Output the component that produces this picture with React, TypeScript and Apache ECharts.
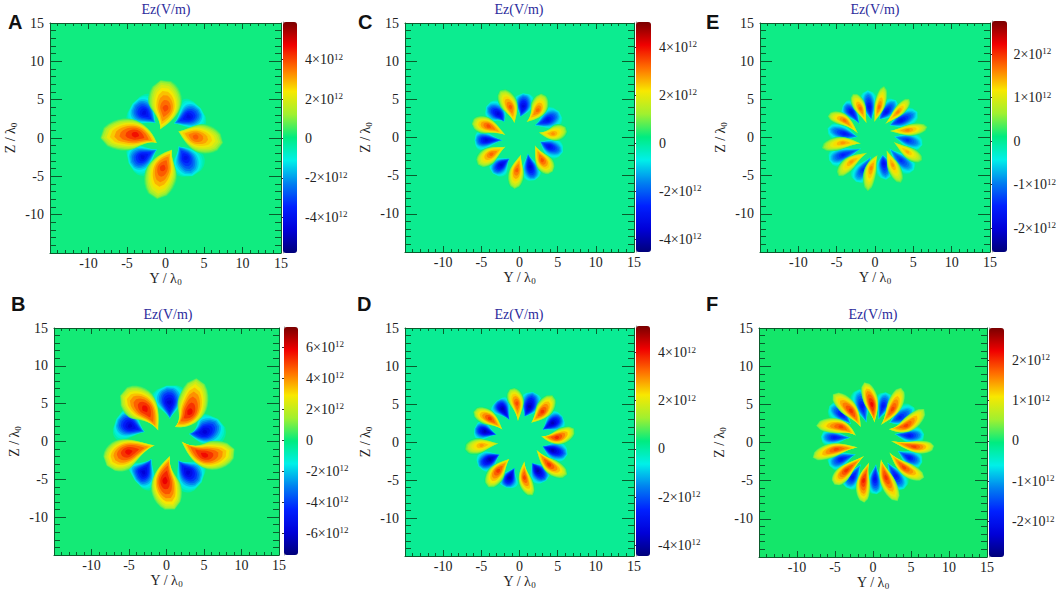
import React, { useEffect, useRef } from "react";
import * as echarts from "echarts";

// Each lobe, in axis units (x 1e12 for the value):
// [peak value, tipY, tipZ, peakY, peakZ, outerY, outerZ, half width]
const lobesA = [
  [4.2, -0.7, 1.1, 0, 3.9, -0.65, 7.6, 2.3],
  [4.0, 1.65, 0.87, 3.9, 0.13, 7.5, -0.65, 2.0],
  [4.4, 0.87, -1.5, -0.35, -3.9, -1.1, -8, 2.2],
  [4.8, -1.1, -0.65, -3.9, 0.43, -8.5, 0, 2.2],
  [-4.4, -1.3, 1.95, -2.8, 3.3, -4.3, 4.5, 1.5],
  [-4.4, 1.1, 1.9, 3, 2.8, 4.6, 3.9, 1.4],
  [-4.2, 1.7, -1.1, 2.6, -2.6, 3.5, -5, 1.4],
  [-4.4, -1.1, -1.5, -3, -2.5, -4.8, -3.3, 1.4],
];
const lobesB = [
  [6.0, 1.1, 1.9, 3.1, 3.9, 4, 8.4, 2.1],
  [6.0, 2, 0, 5.1, -1.8, 9.1, -1, 2.0],
  [6.2, 0.45, -1.9, -0.2, -5.2, 1.1, -9, 2.1],
  [6.0, -1.55, -0.5, -5.1, -1.4, -8, -3.2, 2.2],
  [6.0, -1.1, 1.45, -2.9, 4.35, -6.2, 6.1, 2.3],
  [-6.2, 0.45, 3.0, 0.35, 5.2, 0, 7.4, 1.5],
  [-6.2, 3.0, 1.0, 5.1, 1.3, 6.9, 3, 1.5],
  [-6.2, 1.55, -2.5, 2.9, -4.1, 4.7, -5.4, 1.5],
  [-6.2, -2, -2.3, -3.1, -4.1, -4.2, -5.2, 1.5],
  [-6.2, -2.9, 1.25, -4.9, 2.1, -6.7, 3, 1.5],
];
const lobesC = [
  [3.5, -0.65, 1.85, -1.2, 4, -2.6, 6.2, 1.2],
  [3.4, 0.9, 2, 2.4, 3.6, 2.85, 5.8, 1.2],
  [3.0, 2.5, 0.65, 4.4, 0.5, 6.1, 1.4, 1.1],
  [3.6, 2, -1, 3, -3, 4.4, -4.5, 1.2],
  [3.5, 0.2, -2.2, -0.35, -4.3, -0.65, -6.8, 1.1],
  [3.4, -1.8, -1.2, -3.7, -2.2, -5.5, -3.6, 1.2],
  [3.6, -1.8, 0.3, -4.1, 1.5, -6.3, 1.8, 1.2],
  [-3.6, -2, 2.05, -2.8, 3.1, -4.4, 4, 0.9],
  [-3.5, 0.1, 2.7, 0.5, 4.1, 0.45, 5.8, 0.9],
  [-3.2, 2, 1.6, 3.7, 2.3, 5.2, 3.4, 0.9],
  [-3.3, 2.7, -0.55, 3.9, -1.2, 5.7, -1.9, 0.8],
  [-3.6, 1.1, -2.1, 1.4, -3.85, 2, -5.6, 0.8],
  [-3.6, -1.3, -2.75, -2.4, -3.6, -3.5, -4.7, 0.8],
  [-3.5, -2.2, -0.35, -4.4, -0.35, -5.9, -0.35, 0.8],
];
const lobesD = [
  [3.7, -0.2, 2.7, -0.35, 5.1, -1.3, 7, 1.1],
  [3.9, 1.5, 2.5, 3, 4, 4.35, 6.2, 1.2],
  [4.0, 2.8, 0.75, 4.9, 0.6, 7.2, 1.8, 1.1],
  [3.9, 2.2, -1, 3.9, -3, 6.3, -4.3, 1.1],
  [3.8, 0.65, -2.5, 0.65, -4.7, 1.75, -7.1, 0.95],
  [3.9, -1.3, -2.2, -2.8, -3.8, -4.1, -6, 1.2],
  [3.0, -2.7, -0.2, -5, -0.45, -7.2, -1, 1.1],
  [3.9, -2.2, 1.6, -3.9, 3.1, -6.1, 4, 1.1],
  [-4.0, -1.3, 2.9, -2.25, 4.4, -3, 5.4, 0.85],
  [-4.0, 0.65, 3.35, 1.3, 4.65, 1.75, 6.6, 0.9],
  [-4.0, 3, 1.6, 4.35, 2.5, 5.65, 3.35, 0.85],
  [-4.0, 3, -0.55, 4.35, -1.1, 6.3, -1.65, 0.8],
  [-4.1, 1.65, -2.75, 2.4, -3.8, 3.5, -5.1, 0.85],
  [-4.0, -0.65, -3.4, -1.3, -4.7, -1.75, -6, 0.8],
  [-4.0, -2.6, -1.65, -3.9, -2.3, -5.4, -3.2, 0.85],
  [-4.0, -3, 0.95, -4.55, 1.4, -5.9, 1.8, 0.8],
];
const lobesE = [
  [1.8, -1.1, 1.85, -1.9, 3.8, -2.9, 5.75, 0.85],
  [1.8, -0.1, 2, 0.55, 4, 1.2, 6.8, 0.75],
  [1.7, 1.3, 1.75, 3, 3.35, 4.5, 5.1, 0.7],
  [1.7, 1.9, 0.85, 4.25, 0.95, 6.9, 1.4, 0.8],
  [1.5, 2.4, -0.55, 4.25, -1.9, 6.2, -3, 0.85],
  [1.6, 1.5, -1.65, 2.3, -3.6, 3.4, -6, 0.85],
  [1.7, 0.35, -2.3, -0.5, -4, -0.95, -7.1, 0.85],
  [1.6, -1, -2, -3.1, -3.2, -4.8, -5.1, 0.9],
  [1.6, -1.8, -0.8, -4.2, -0.7, -7, -1.4, 0.9],
  [1.8, -2.2, 0.5, -4, 2.25, -6.2, 2.8, 0.85],
  [-1.8, -2, 1.75, -3.1, 3.35, -4.2, 4.2, 0.75],
  [-1.8, -0.45, 2.25, -0.75, 4, -0.95, 6.2, 0.7],
  [-1.8, 0.55, 2.35, 1.45, 3.35, 2.75, 4.9, 0.7],
  [-1.8, 1.9, 1.6, 3.4, 2.25, 5.55, 3.35, 0.75],
  [-1.5, 2.5, 0.1, 4.25, -0.35, 6.2, -1, 0.7],
  [-1.5, 1.9, -1.45, 3.4, -3, 5.1, -4.25, 0.75],
  [-1.8, 1, -2.3, 1.15, -3.4, 1.45, -5.55, 0.7],
  [-1.5, -0.5, -2.5, -1.6, -4.25, -2.5, -5.8, 0.75],
  [-1.6, -1.8, -1.45, -4.2, -2.3, -6, -3, 0.75],
  [-1.7, -2.25, 0.1, -4, 0.5, -6.2, 1.2, 0.7],
];
const lobesF = [
  [2.3, 0.2, 2.6, -0.15, 5, -1.15, 7.9, 1],
  [2.0, 1.05, 2.3, 2.6, 4.4, 3.7, 7.2, 1],
  [2.0, 2.05, 1.75, 4.35, 2.2, 6.75, 4.4, 1],
  [2.0, 2.35, 0.2, 5.45, -0.55, 8.05, -0.45, 0.85],
  [2.0, 2.15, -1.3, 4.1, -3.3, 6.75, -4.6, 0.95],
  [2.1, 1.05, -2.2, 1.7, -4.6, 3.25, -7.7, 1],
  [2.2, -0.5, -2.6, -1.25, -5, -1.15, -7.9, 0.95],
  [2.1, -1.15, -1.75, -3.55, -3.7, -5.1, -5.5, 1],
  [2.0, -2, -0.65, -4.85, -0.9, -7.95, -2, 0.95],
  [2.0, -2.25, 0.9, -4.2, 2.05, -7.5, 2.2, 1],
  [2.1, -1.6, 2, -2.9, 4.15, -5.3, 6.35, 1.1],
  [-2.0, -0.85, 2.6, -1.45, 4.8, -1.8, 7, 0.85],
  [-2.0, 0.7, 3, 1.35, 4.8, 1.7, 6.6, 0.75],
  [-1.9, 2.15, 2.6, 3.55, 3.3, 5.45, 4.6, 0.85],
  [-2.0, 2.8, 1.1, 4.8, 0.9, 6.75, 1.1, 0.75],
  [-2.0, 3.25, -1.1, 4.8, -2, 6.5, -2.6, 0.8],
  [-2.0, 1.9, -2.6, 3, -4.4, 4.1, -6.1, 0.8],
  [-2.1, 0.4, -2.85, 0.25, -4.8, 0.5, -6.8, 0.7],
  [-2.0, -1.6, -2.85, -2.7, -4.6, -3.55, -5.9, 0.8],
  [-2.0, -2.25, -1.55, -4.2, -2.2, -5.75, -3.05, 0.8],
  [-2.0, -2.9, 0.65, -5.1, 0.65, -6.85, 0.75, 0.7],
  [-2.0, -2.9, 2.4, -4.2, 3.7, -5.75, 4.8, 0.8],
];

const panelLetters = ["A", "B", "C", "D", "E", "F"];
const panelLobes = [lobesA, lobesB, lobesC, lobesD, lobesE, lobesF];
const barRanges = [[-5.8, 5.9], [-7.4, 7.3], [-4.53, 5.05], [-4.44, 5.1], [-2.55, 2.76], [-2.88, 2.8]];
const barTicks = [
  [-4, -2, 0, 2, 4],
  [-6, -4, -2, 0, 2, 4, 6],
  [-4, -2, 0, 2, 4],
  [-4, -2, 0, 2, 4],
  [-2, -1, 0, 1, 2],
  [-2, -1, 0, 1, 2],
];

// Layout: plot left, top, width, height; bar left, top, width, height; title x, title y; letter x, letter y
const layouts = [
  { p: [50, 23, 231, 230], b: [283, 22, 14, 231], t: [166, 2], l: [8, 12], bg: "#10ec80" },
  { p: [54, 328, 225, 227], b: [284, 327, 14, 228], t: [168, 307], l: [11, 294], bg: "#14ea76" },
  { p: [405, 23, 229, 229], b: [636, 22, 15, 230], t: [519, 2], l: [358, 12], bg: "#0cec90" },
  { p: [405, 328, 229, 228], b: [636, 326, 14, 230], t: [519, 307], l: [357, 294], bg: "#0aec94" },
  { p: [760, 23, 230, 229], b: [992, 21, 15, 231], t: [875, 2], l: [706, 12], bg: "#0eec86" },
  { p: [759, 328, 228, 229], b: [989, 328, 15, 229], t: [873, 307], l: [706, 294], bg: "#14e66a" },
];

const jet = ["#00007a", "#0000d8", "#0020ff", "#0080f0", "#00f0e8", "#00ec80", "#a0f030", "#f8e800", "#ff7000", "#f00000", "#7a0000"];
const levels = [0.1, 0.18, 0.26, 0.36, 0.46, 0.56, 0.66, 0.76, 0.86, 0.95];
const serif = "Liberation Serif";
const tickColor = "#0a5c2c";

function lobeItems(lobes: number[][]) {
  const out: number[][] = [];
  for (const f of levels) for (const l of lobes) out.push([l[0] * f, l[1], l[2], l[3], l[4], l[5], l[6], l[7], f]);
  return out;
}

function renderLobe(_: any, api: any) {
  const v = api.value(0);
  const ty = api.value(1), tz = api.value(2), py = api.value(3), pz = api.value(4);
  const oy = api.value(5), oz = api.value(6), hw = api.value(7), f = api.value(8);
  const gOut = Math.pow(f, 2.2), gTip = Math.pow(f, 3.5);
  const ay = ty + (py - ty) * gTip, az = tz + (pz - tz) * gTip;
  const by = oy + (py - oy) * gOut, bz = oz + (pz - oz) * gOut;
  const cy = 2 * py - (ay + by) / 2, cz = 2 * pz - (az + bz) / 2;
  const halo = v < 0 ? 1.15 + 0.75 * Math.pow(1 - f, 3) : 1;
  const w = halo * hw * Math.pow(1 - f, 0.65) + 0.05;
  const e = 1.7 - 0.7 * f;
  const left: number[][] = [], right: number[][] = [];
  const n = 16;
  for (let i = 0; i <= n; i++) {
    const s = i / n, q = 1 - s;
    const y = q * q * ay + 2 * q * s * cy + s * s * by;
    const z = q * q * az + 2 * q * s * cz + s * s * bz;
    let dy = 2 * q * (cy - ay) + 2 * s * (by - cy);
    let dz = 2 * q * (cz - az) + 2 * s * (bz - cz);
    const len = Math.hypot(dy, dz) || 1;
    dy /= len; dz /= len;
    const u = Math.pow(s, e);
    const prof = Math.pow(Math.sin(Math.PI * u), u < 0.5 ? 0.8 : 0.45) * w;
    left.push(api.coord([y - dz * prof, z + dy * prof]));
    right.push(api.coord([y + dz * prof, z - dy * prof]));
  }
  return {
    type: "polygon",
    shape: { points: left.concat(right.reverse()) },
    style: { fill: api.visual("color") },
    silent: true,
  };
}

function barLabel(v: number) {
  if (v === 0) return "{a|0}";
  return `{a|${v}×10}{s|12}`;
}

function buildOption() {
  const grid: any[] = [], xAxis: any[] = [], yAxis: any[] = [], series: any[] = [], visualMap: any[] = [], title: any[] = [];
  panelLobes.forEach((lobes, i) => {
    const L = layouts[i];
    const [pl, pt, pw, ph] = L.p;
    const [bl, bt, bw, bh] = L.b;
    grid.push({ left: pl, top: pt, width: pw, height: ph, show: true, backgroundColor: L.bg, borderWidth: 0 });
    grid.push({ left: bl, top: bt, width: bw, height: bh, show: false });
    const minor = { show: true, splitNumber: 5, length: 3, lineStyle: { color: tickColor, width: 1 } };
    const line = { show: true, onZero: false, lineStyle: { color: tickColor, width: 1 } };
    const base = { type: "value", min: -15, max: 15, interval: 5, splitLine: { show: false }, gridIndex: 2 * i };
    const labelStyle = { fontFamily: serif, fontSize: 14, color: "#222", showMinLabel: false };
    const nameStyle = (t: string) => ({
      name: t,
      nameLocation: "middle",
      nameTextStyle: {
        fontFamily: serif,
        fontSize: 14,
        color: "#222",
        rich: {
          a: { fontFamily: serif, fontSize: 14, color: "#222" },
          s: { fontFamily: serif, fontSize: 9, color: "#222", verticalAlign: "bottom", padding: [6, 0, 0, 0] },
        },
      },
    });
    xAxis.push({
      ...base, position: "bottom", axisLine: line,
      axisTick: { show: true, inside: true, length: 6, lineStyle: { color: tickColor } },
      minorTick: minor, axisLabel: { ...labelStyle, margin: 3 },
      ...nameStyle("{a|Y / λ}{s|0}"), nameGap: 18,
    });
    xAxis.push({
      ...base, position: "top", axisLine: line, axisLabel: { show: false },
      axisTick: { show: true, inside: true, length: 6, lineStyle: { color: tickColor } }, minorTick: minor,
    });
    xAxis.push({ type: "value", gridIndex: 2 * i + 1, min: 0, max: 1, show: false });
    yAxis.push({
      ...base, position: "left", axisLine: line,
      axisTick: { show: true, inside: true, length: 12, lineStyle: { color: tickColor } },
      minorTick: { ...minor, length: 6 }, axisLabel: { ...labelStyle, margin: 6 },
      ...nameStyle("{a|Z / λ}{s|0}"), nameGap: 32,
    });
    yAxis.push({
      ...base, position: "right", axisLine: line, axisLabel: { show: false },
      axisTick: { show: true, inside: true, length: 12, lineStyle: { color: tickColor } },
      minorTick: { ...minor, length: 6 },
    });
    yAxis.push({
      type: "value", gridIndex: 2 * i + 1, position: "right", min: barRanges[i][0], max: barRanges[i][1],
      splitLine: { show: false },
      axisLine: { show: true, lineStyle: { color: "#9a9a9a", width: 1 } },
      axisTick: { show: true, inside: true, length: 2, lineStyle: { color: "#333" }, customValues: barTicks[i] },
      axisLabel: {
        margin: 8, customValues: barTicks[i], formatter: barLabel,
        rich: {
          a: { fontFamily: serif, fontSize: 14, color: "#222" },
          s: { fontFamily: serif, fontSize: 9, color: "#222", verticalAlign: "top", padding: [0, 0, 6, 0] },
        },
      },
    });
    // Negative lobes are drawn first so that the cyan haze lies under the positive lobes.
    const items = lobeItems(lobes).sort((a, b) => (a[0] < 0 ? 0 : 1) - (b[0] < 0 ? 0 : 1) || a[8] - b[8]);
    series.push({
      type: "custom",
      renderItem: renderLobe,
      xAxisIndex: 3 * i,
      yAxisIndex: 3 * i,
      encode: { x: 3, y: 4 },
      data: items,
      clip: true,
      silent: true,
    });
    visualMap.push({
      type: "continuous",
      seriesIndex: i,
      dimension: 0,
      min: barRanges[i][0],
      max: barRanges[i][1],
      inRange: { color: jet },
      left: bl,
      top: bt,
      itemWidth: bw,
      itemHeight: bh,
      padding: 0,
      text: null,
      showLabel: false,
      calculable: false,
      hoverLink: false,
      realtime: false,
    });
    title.push({
      text: "Ez(V/m)", left: L.t[0], top: L.t[1], textAlign: "center", padding: 0,
      textStyle: { fontFamily: serif, fontSize: 14, fontWeight: "normal", color: "#2b2b9c" },
    });
    title.push({
      text: panelLetters[i], left: L.l[0], top: L.l[1], padding: 0,
      textStyle: { fontFamily: "Liberation Sans", fontSize: 20, fontWeight: "bold", color: "#111" },
    });
  });
  return { animation: false, backgroundColor: "#fff", grid, xAxis, yAxis, series, visualMap, title };
}

export default function App() {
  const ref = useRef<HTMLDivElement>(null);
  useEffect(() => {
    const chart = echarts.init(ref.current!, undefined, { renderer: "svg" });
    chart.setOption(buildOption() as any);
    return () => chart.dispose();
  }, []);
  return <div ref={ref} style={{ position: "fixed", left: 0, top: 0, width: 1059, height: 592 }} />;
}
